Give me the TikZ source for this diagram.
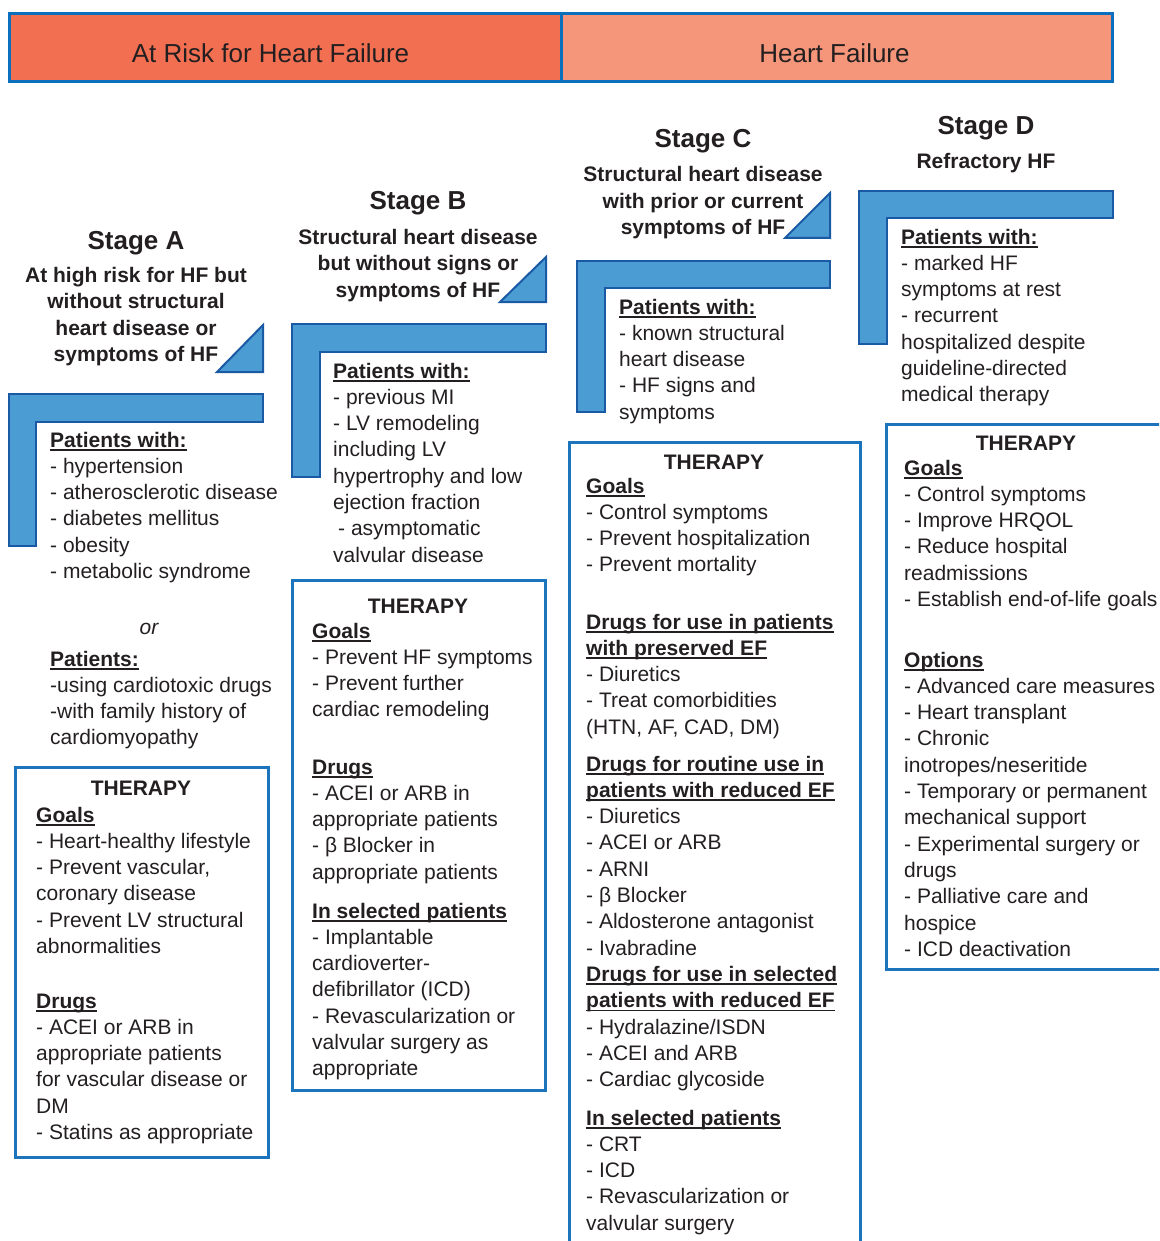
\documentclass[tikz,border=0pt]{standalone}
\usepackage{fontspec}
\setmainfont{Liberation Sans}
\definecolor{tx}{HTML}{231F20}
\definecolor{hl}{HTML}{F26F52}
\definecolor{hr}{HTML}{F5967A}
\definecolor{hb}{HTML}{0A70BE}
\definecolor{lf}{HTML}{4B9CD3}
\definecolor{lb}{HTML}{1A5AA5}
\definecolor{tb}{HTML}{1C75BC}
\newsavebox\hdbox
\newcommand\hd[1]{\sbox\hdbox{\bfseries #1}\usebox\hdbox\llap{\rule[-3.5pt]{\wd\hdbox}{1.7pt}}}
\newcommand\lst[1]{\parbox[t]{330pt}{\fontsize{21}{26.3}\selectfont\raggedright #1}}
\newcommand\ctr[1]{\parbox[t]{330pt}{\fontsize{21}{26.5}\selectfont\bfseries\centering #1}}
\tikzset{
  txt/.style={inner sep=0pt, text=tx},
  lt/.style={txt, anchor=base west},
  ct/.style={txt, anchor=base},
  stg/.style={ct, font=\fontsize{26}{30}\selectfont\bfseries},
  thr/.style={ct, font=\fontsize{21}{26}\selectfont\bfseries},
  hdr/.style={draw=hb, line width=3pt},
  lshape/.style={draw=lb, fill=lf, line width=2pt, line join=miter},
  tbox/.style={draw=tb, line width=3pt},
}
\begin{document}
\begin{tikzpicture}[x=1pt,y=-1pt]
\useasboundingbox (0,0) rectangle (1159,1241);
\clip (0,0) rectangle (1159,1241);
% header
\draw[hdr, fill=hl] (9,14) rectangle (561,82);
\draw[hdr, fill=hr] (561,14) rectangle (1112,82);
\node[ct, font=\fontsize{26}{30}\selectfont] (h1) at (270.5,62.4) {At Risk for Heart Failure};
\node[ct, font=\fontsize{26}{30}\selectfont] (h2) at (834.5,62.4) {Heart Failure};

% ---------- Stage A
\node[stg] (aS) at (136,250) {Stage A};
\node[ct] (aD) at (136,282) {\ctr{At high risk for HF but\\without structural\\heart disease or\\symptoms of HF}};
\draw[lshape] (217,372) -- (263,325) -- (263,372) -- cycle;
\draw[lshape] (9,394) -- (263,394) -- (263,422) -- (36,422) -- (36,546) -- (9,546) -- cycle;
\node[lt] (aP) at (50,447) {\lst{\hd{Patients with:}\\- hypertension\\- atherosclerotic disease\\- diabetes mellitus\\- obesity\\- metabolic syndrome}};
\node[ct, font=\fontsize{21}{26}\selectfont\itshape] (aor) at (149,634) {or};
\node[lt] (aP2) at (50,666) {\lst{\hd{Patients:}\\-using cardiotoxic drugs\\-with family history of\\cardiomyopathy}};
\draw[tbox] (15,767) rectangle (268,1157);
\node[thr] (aTh) at (141,795) {THERAPY};
\node[lt] (aG) at (36,822) {\lst{\hd{Goals}\\- Heart-healthy lifestyle\\- Prevent vascular,\\coronary disease\\- Prevent LV structural\\abnormalities}};
\node[lt] (aDr) at (36,1008) {\lst{\hd{Drugs}\\- ACEI or ARB in\\appropriate patients\\for vascular disease or\\DM\\- Statins as appropriate}};

% ---------- Stage B
\node[stg] (bS) at (418,210) {Stage B};
\node[ct] (bD) at (418,244) {\ctr{Structural heart disease\\but without signs or\\symptoms of HF}};
\draw[lshape] (500,302) -- (546,257) -- (546,302) -- cycle;
\draw[lshape] (292,324) -- (546,324) -- (546,352) -- (320,352) -- (320,477) -- (292,477) -- cycle;
\node[lt] (bP) at (333,378) {\lst{\hd{Patients with:}\\- previous MI\\- LV remodeling\\including LV\\hypertrophy and low\\ejection fraction\\\hspace*{5pt}- asymptomatic\\valvular disease}};
\draw[tbox] (292,580) rectangle (545,1090);
\node[thr] (bTh) at (418,613) {THERAPY};
\node[lt] (bG) at (312,638) {\lst{\hd{Goals}\\- Prevent HF symptoms\\- Prevent further\\cardiac remodeling}};
\node[lt] (bDr) at (312,774) {\lst{\hd{Drugs}\\- ACEI or ARB in\\appropriate patients\\- β Blocker in\\appropriate patients}};
\node[lt] (bSel) at (312,918) {\lst{\hd{In selected patients}\\- Implantable\\cardioverter-\\defibrillator (ICD)\\- Revascularization or\\valvular surgery as\\appropriate}};

% ---------- Stage C
\node[stg] (cS) at (703,148) {Stage C};
\node[ct] (cD) at (703,182) {\ctr{Structural heart disease\\with prior or current\\symptoms of HF}};
\draw[lshape] (785,238) -- (830,193) -- (830,238) -- cycle;
\draw[lshape] (577,261) -- (830,261) -- (830,288) -- (605,288) -- (605,412) -- (577,412) -- cycle;
\node[lt] (cP) at (619,314) {\lst{\hd{Patients with:}\\- known structural\\heart disease\\- HF signs and\\symptoms}};
\draw[tbox] (569,442) rectangle (860,1260);
\node[thr] (cTh) at (714,469) {THERAPY};
\node[lt] (cG) at (586,493) {\lst{\hd{Goals}\\- Control symptoms\\- Prevent hospitalization\\- Prevent mortality}};
\node[lt] (cPr) at (586,629) {\lst{\hd{Drugs for use in patients}\\\hd{with preserved EF}\\- Diuretics\\- Treat comorbidities\\(HTN, AF, CAD, DM)}};
\node[lt] (cRo) at (586,771) {\lst{\hd{Drugs for routine use in}\\\hd{patients with reduced EF}\\- Diuretics\\- ACEI or ARB\\- ARNI\\- β Blocker\\- Aldosterone antagonist\\- Ivabradine\\\hd{Drugs for use in selected}\\\hd{patients with reduced EF}\\- Hydralazine/ISDN\\- ACEI and ARB\\- Cardiac glycoside}};
\node[lt] (cSel) at (586,1125) {\lst{\hd{In selected patients}\\- CRT\\- ICD\\- Revascularization or\\valvular surgery}};

% ---------- Stage D
\node[stg] (dS) at (986,135) {Stage D};
\node[ct] (dD) at (986,169) {\ctr{Refractory HF}};
\draw[lshape] (859,191) -- (1113,191) -- (1113,218) -- (887,218) -- (887,344) -- (859,344) -- cycle;
\node[lt] (dP) at (901,244) {\lst{\hd{Patients with:}\\- marked HF\\symptoms at rest\\- recurrent\\hospitalized despite\\guideline-directed\\medical therapy}};
\draw[tbox] (886,424) rectangle (1175,969);
\node[thr] (dTh) at (1026,450) {THERAPY};
\node[lt] (dG) at (904,475) {\lst{\hd{Goals}\\- Control symptoms\\- Improve HRQOL\\- Reduce hospital\\readmissions\\- Establish end-of-life goals}};
\node[lt] (dO) at (904,667) {\lst{\hd{Options}\\- Advanced care measures\\- Heart transplant\\- Chronic\\inotropes/neseritide\\- Temporary or permanent\\mechanical support\\- Experimental surgery or\\drugs\\- Palliative care and\\hospice\\- ICD deactivation}};
\end{tikzpicture}
\end{document}
